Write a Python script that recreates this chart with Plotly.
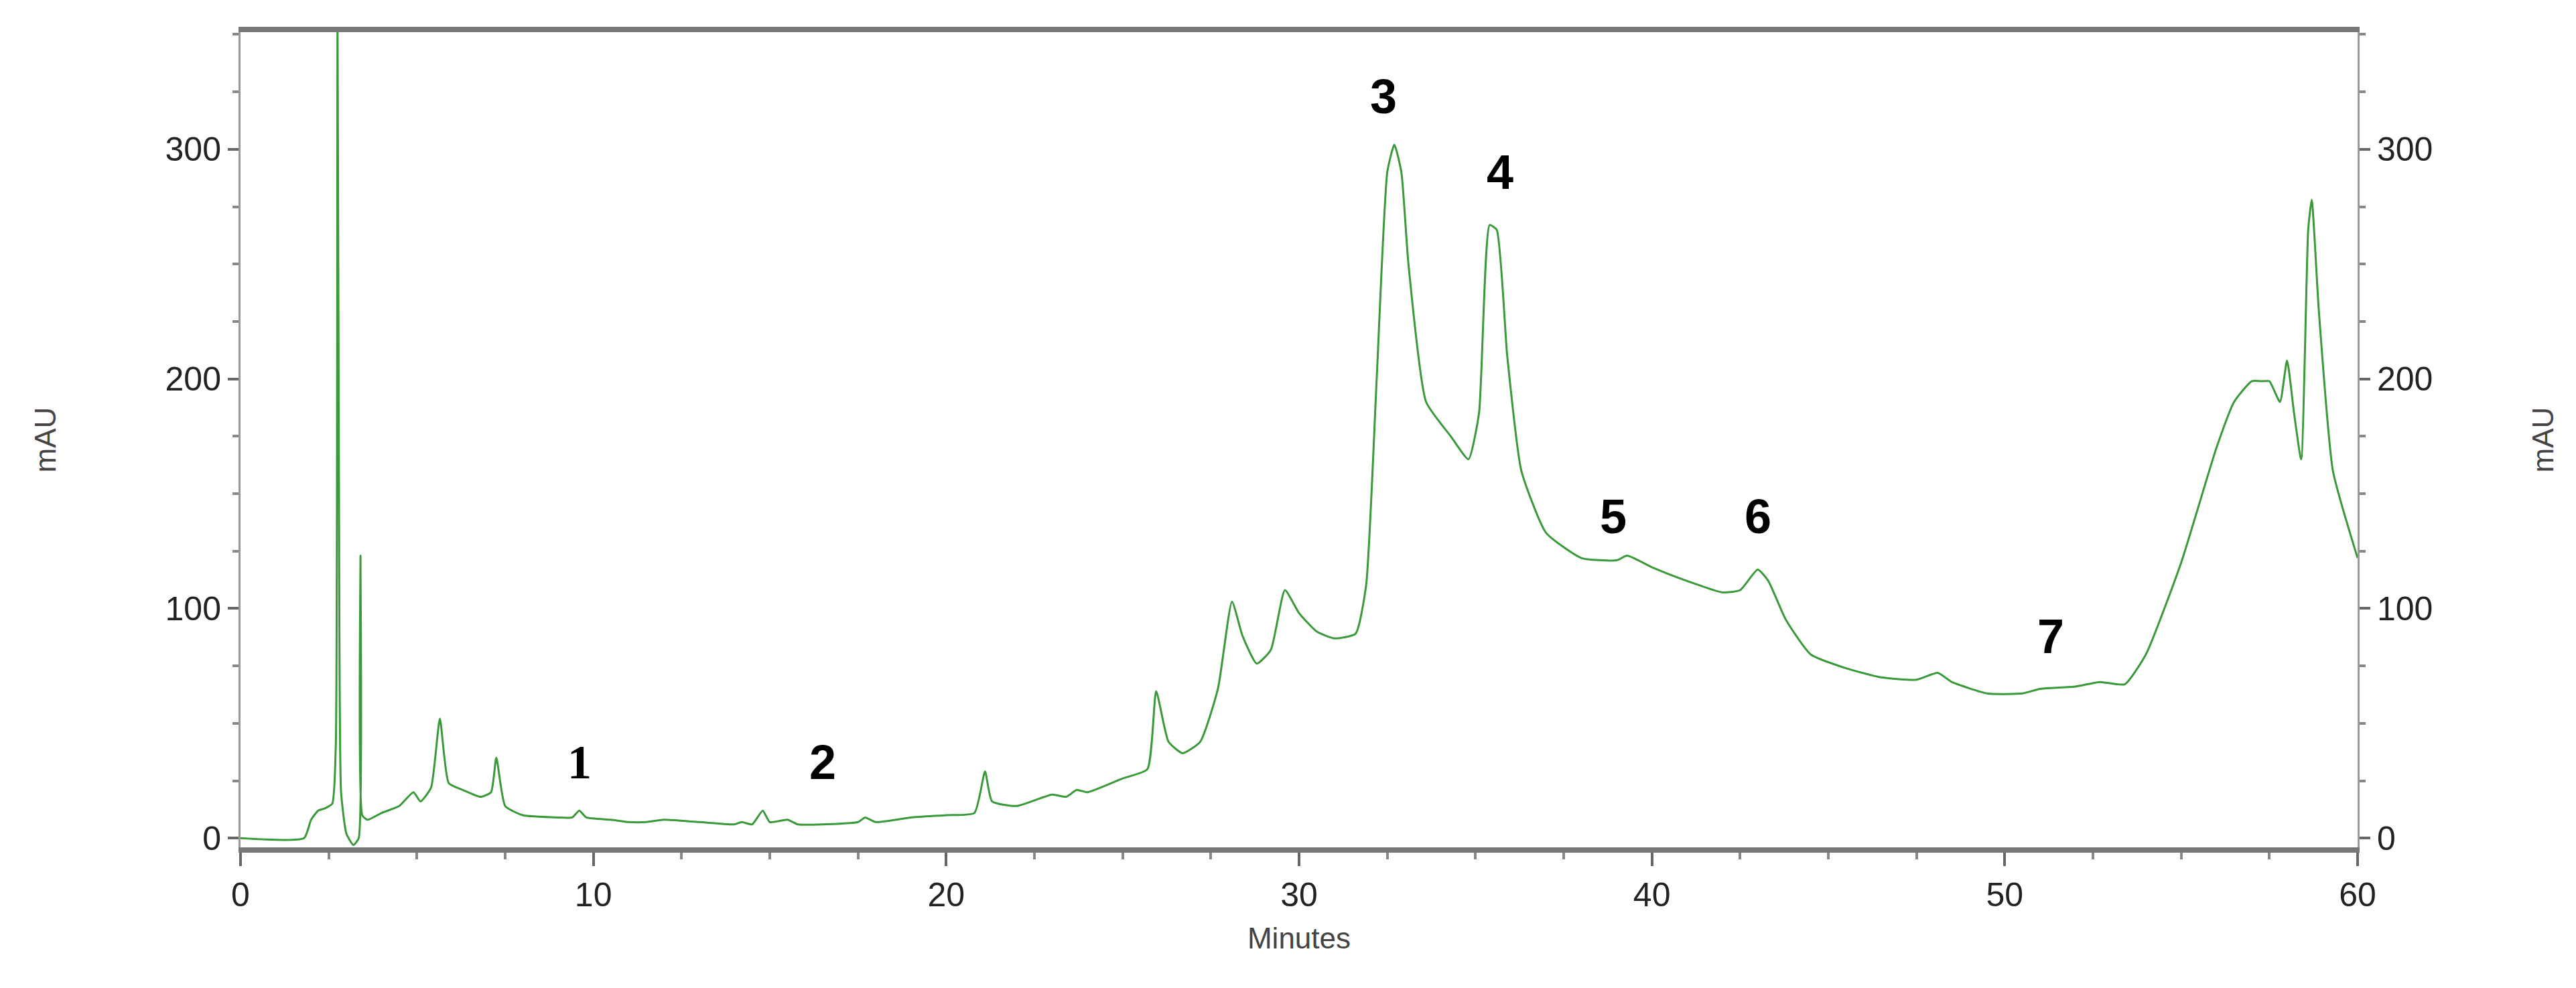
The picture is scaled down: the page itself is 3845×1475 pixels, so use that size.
import plotly.graph_objects as go

t = [0,1.8,2.0,2.2,2.4,2.6,2.7,2.75,2.8,2.85,3.0,3.2,3.35,3.4,3.45,3.6,4.0,4.5,4.9,5.1,5.4,5.65,5.9,6.3,6.8,7.1,7.25,7.5,8,9,9.4,9.6,9.8,10.5,11,11.5,12,13,14,14.2,14.5,14.8,15,15.5,15.8,16.5,17.5,17.7,18,19,20,20.8,21.1,21.3,22,23,23.4,23.7,24,25,25.7,25.95,26.3,26.7,27.2,27.7,28.1,28.4,28.8,29.2,29.6,30.0,30.5,31,31.6,31.9,32.2,32.5,32.7,32.9,33.1,33.6,34.3,34.8,35.1,35.4,35.6,35.9,36.3,37,38,39,39.3,40,41,42,42.5,43,43.3,43.8,44.5,45.5,46.5,47.5,48.1,48.5,49.5,50.5,51,52,52.7,53.4,54,55,56,56.5,57,57.3,57.5,57.8,58.0,58.2,58.4,58.6,58.7,58.9,59.3,60]
mau = [0,0,8,12,13,15,40,360,100,20,2,-3,0,123,10,8,11,14,20,16,22,52,24,21,18,20,35,14,10,9,9,12,9,8,7,7,8,7,6,7,6,12,7,8,6,6,7,9,7,9,10,11,29,16,14,19,18,21,20,26,30,64,42,37,42,65,103,88,76,82,108,98,90,87,89,110,200,290,302,290,250,190,175,165,185,267,265,210,160,133,122,121,123,118,112,107,108,117,112,95,80,74,70,69,72,68,63,63,65,66,68,67,80,120,170,190,199,199,199,190,208,185,165,265,278,230,160,122]

peak_labels = ["1","2","3","4","5","6","7"]
peak_x = [9.6,16.5,32.4,35.7,38.9,43.0,51.3]
peak_y = [33,33,323,290,140,140,88]

fig = go.Figure()
fig.add_trace(go.Scatter(x=t, y=mau, mode="lines",
                         line=dict(color="#3a9a3a", width=3, shape="spline", smoothing=0.5),
                         showlegend=False))
fig.add_trace(go.Scatter(x=[None], y=[None], yaxis="y2", showlegend=False))

for lab, x, y in zip(peak_labels, peak_x, peak_y):
    fam = "Liberation Serif" if lab == "1" else "Liberation Sans Narrow, Liberation Sans"
    fig.add_annotation(x=x, y=y, text=f"<b>{lab}</b>", showarrow=False,
                       font=dict(size=72, family=fam, color="black"))

yax = dict(range=[-4, 351], tickvals=[0,100,200,300], ticks="outside", ticklen=16, tickwidth=4,
           tickcolor="#666", showgrid=False, zeroline=False, showline=True, linecolor="#999", linewidth=3,
           tickfont=dict(size=50, family="Liberation Sans Narrow, Liberation Sans", color="#222"),
           minor=dict(dtick=25, ticks="outside", ticklen=9, tickcolor="#888"))
fig.update_layout(
    width=3845, height=1475, paper_bgcolor="white", plot_bgcolor="white",
    margin=dict(l=351, r=334, t=40, b=218),
    font=dict(family="Liberation Sans"),
    xaxis=dict(range=[0, 60], tickvals=[0,10,20,30,40,50,60], ticks="outside", ticklen=20, tickwidth=4,
               tickcolor="#666", showgrid=False, zeroline=False, showline=True, mirror=True,
               linecolor="#777", linewidth=8,
               tickfont=dict(size=50, family="Liberation Sans Narrow, Liberation Sans", color="#222"),
               minor=dict(dtick=2.5, ticks="outside", ticklen=10, tickcolor="#888"),
               title=dict(text="Minutes", font=dict(size=44, family="Liberation Sans Narrow, Liberation Sans", color="#444"), standoff=25)),
    yaxis=dict(**yax, title=dict(text="mAU", font=dict(size=44, color="#444"), standoff=150)),
    yaxis2=dict(**yax, overlaying="y", side="right", matches="y",
                title=dict(text="mAU", font=dict(size=44, color="#444"), standoff=150)),
)
fig.write_html("out.html")
